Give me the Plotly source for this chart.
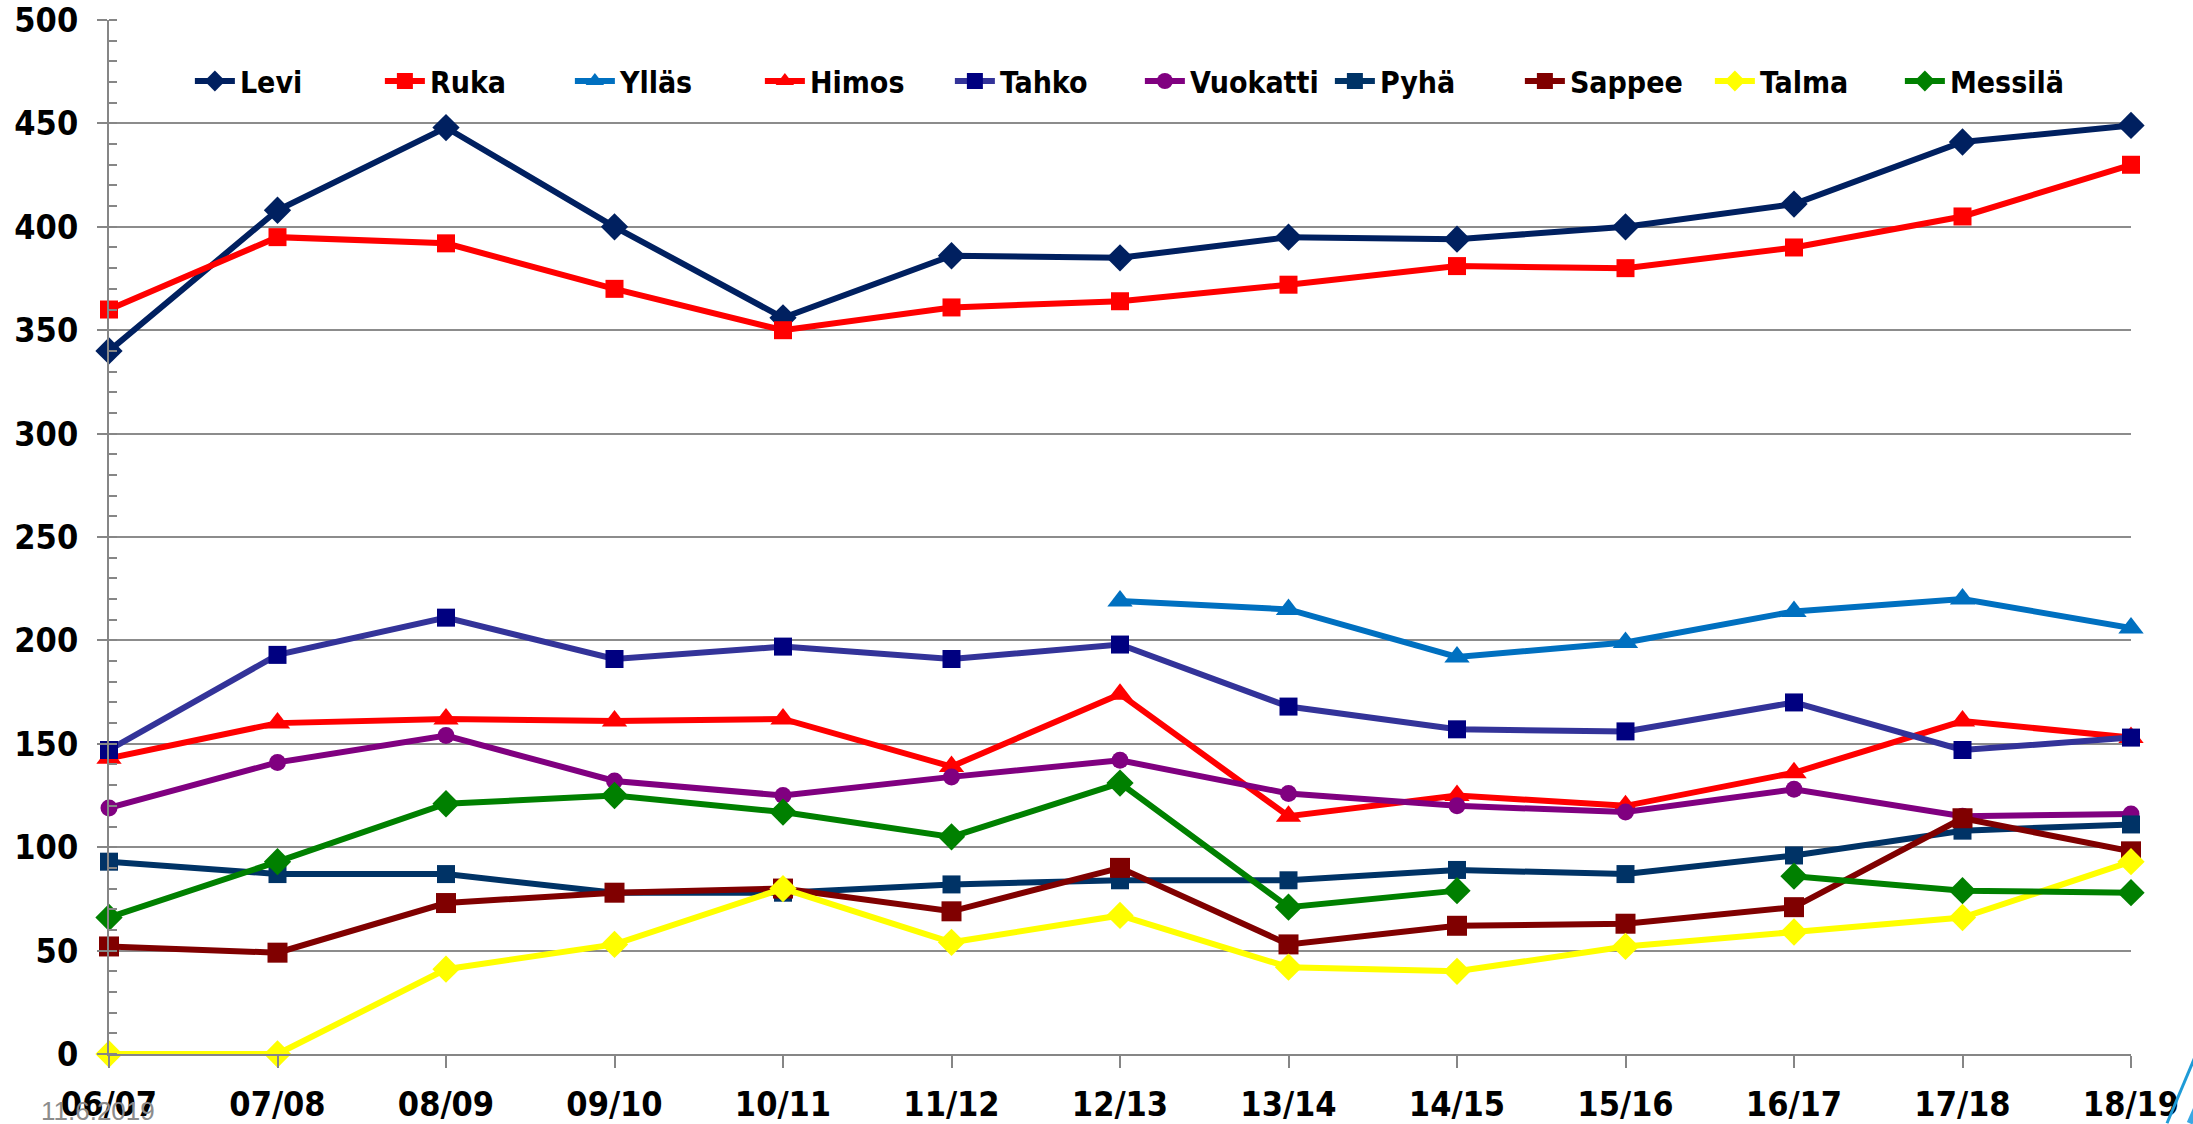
import plotly.graph_objects as go

seasons = ["06/07", "07/08", "08/09", "09/10", "10/11", "11/12", "12/13",
           "13/14", "14/15", "15/16", "16/17", "17/18", "18/19"]

levi = [340, 408, 448, 400, 356, 386, 385, 395, 394, 400, 411, 441, 449]
ruka = [360, 395, 392, 370, 350, 361, 364, 372, 381, 380, 390, 405, 430]
yllas = [None, None, None, None, None, None, 219, 215, 192, 199, 214, 220, 206]
himos = [143, 160, 162, 161, 162, 139, 174, 115, 125, 120, 136, 161, 153]
tahko = [147, 193, 211, 191, 197, 191, 198, 168, 157, 156, 170, 147, 153]
vuokatti = [119, 141, 154, 132, 125, 134, 142, 126, 120, 117, 128, 115, 116]
pyha = [93, 87, 87, 78, 78, 82, 84, 84, 89, 87, 96, 108, 111]
sappee = [52, 49, 73, 78, 80, 69, 90, 53, 62, 63, 71, 114, 98]
talma = [0, 0, 41, 53, 80, 54, 67, 42, 40, 52, 59, 66, 93]
messila = [66, 93, 121, 125, 117, 105, 131, 71, 79, None, 86, 79, 78]

series = [
    ("Levi", levi, "#002060", "#002060", "diamond", 21),
    ("Ruka", ruka, "#FF0000", "#FF0000", "square", 18),
    ("Ylläs", yllas, "#0070C0", "#0070C0", "triangle-up", 22),
    ("Himos", himos, "#FF0000", "#FF0000", "triangle-up", 22),
    ("Tahko", tahko, "#333399", "#000080", "square", 18),
    ("Vuokatti", vuokatti, "#800080", "#800080", "circle", 17),
    ("Pyhä", pyha, "#003366", "#003366", "square", 18),
    ("Sappee", sappee, "#800000", "#800000", "square", 20),
    ("Talma", talma, "#FFFF00", "#FFFF00", "diamond", 21),
    ("Messilä", messila, "#008000", "#008000", "diamond", 21),
]

FONT = "Liberation Sans Narrow, DejaVu Sans Condensed, Arial Narrow, sans-serif"
xs = list(range(len(seasons)))

fig = go.Figure()
for name, vals, lc, mc, sym, ms in series:
    fig.add_trace(go.Scatter(
        x=xs, y=vals, name=name, mode="lines+markers",
        line=dict(color=lc, width=6),
        marker=dict(symbol=sym, size=ms, color=mc, line=dict(width=0)),
        connectgaps=False, cliponaxis=False,
    ))

fig.update_layout(
    width=2193, height=1124,
    margin=dict(l=109, r=62, t=20, b=70, autoexpand=False),
    paper_bgcolor="white", plot_bgcolor="white",
    font=dict(family=FONT, color="black"),
    showlegend=True,
    legend=dict(
        orientation="h", x=0.040, y=0.941, xanchor="left", yanchor="middle",
        bgcolor="rgba(0,0,0,0)",
        font=dict(family=FONT, size=30, weight="bold", color="black"),
        entrywidth=135, entrywidthmode="pixels", itemwidth=40,
    ),
    xaxis=dict(
        range=[0, 12], tickmode="array", tickvals=xs, ticktext=seasons,
        showgrid=False, zeroline=False, automargin=False,
        showline=True, linecolor="#868686", linewidth=2,
        ticks="outside", ticklen=12, tickwidth=2, tickcolor="#868686",
        tickfont=dict(family=FONT, size=34, weight="bold", color="black"),
        ticklabelstandoff=7, ticklabeloverflow="allow",
    ),
    yaxis=dict(
        range=[0, 500], tick0=0, dtick=50,
        showgrid=True, gridcolor="#8C8C8C", gridwidth=2,
        zeroline=False, automargin=False,
        showline=True, linecolor="#868686", linewidth=2,
        ticks="outside", ticklen=10, tickwidth=2, tickcolor="#868686",
        minor=dict(dtick=10, ticks="inside", ticklen=8, tickwidth=2,
                   tickcolor="#868686", showgrid=False),
        tickfont=dict(family=FONT, size=34, weight="bold", color="black"),
        ticklabelstandoff=12, ticklabeloverflow="allow",
    ),
    annotations=[dict(
        text="11.6.2019", xref="paper", yref="paper",
        x=-0.0054, y=-0.055, xanchor="center", yanchor="middle", showarrow=False,
        font=dict(family="Liberation Sans, DejaVu Sans, sans-serif", size=26, color="#8C8C8C"),
    )],
    shapes=[
        dict(type="line", xref="paper", yref="paper",
             x0=1.0178, y0=-0.067, x1=1.0341, y1=0.0087,
             line=dict(color="#1E9BD7", width=3)),
        dict(type="line", xref="paper", yref="paper",
             x0=1.029, y0=-0.067, x1=1.0341, y1=-0.044,
             line=dict(color="#3AA8E4", width=6)),
    ],
)

fig.write_html("out.html", config={"displayModeBar": False},
               post_script="document.body.style.margin='0';document.body.style.overflow='hidden';")
